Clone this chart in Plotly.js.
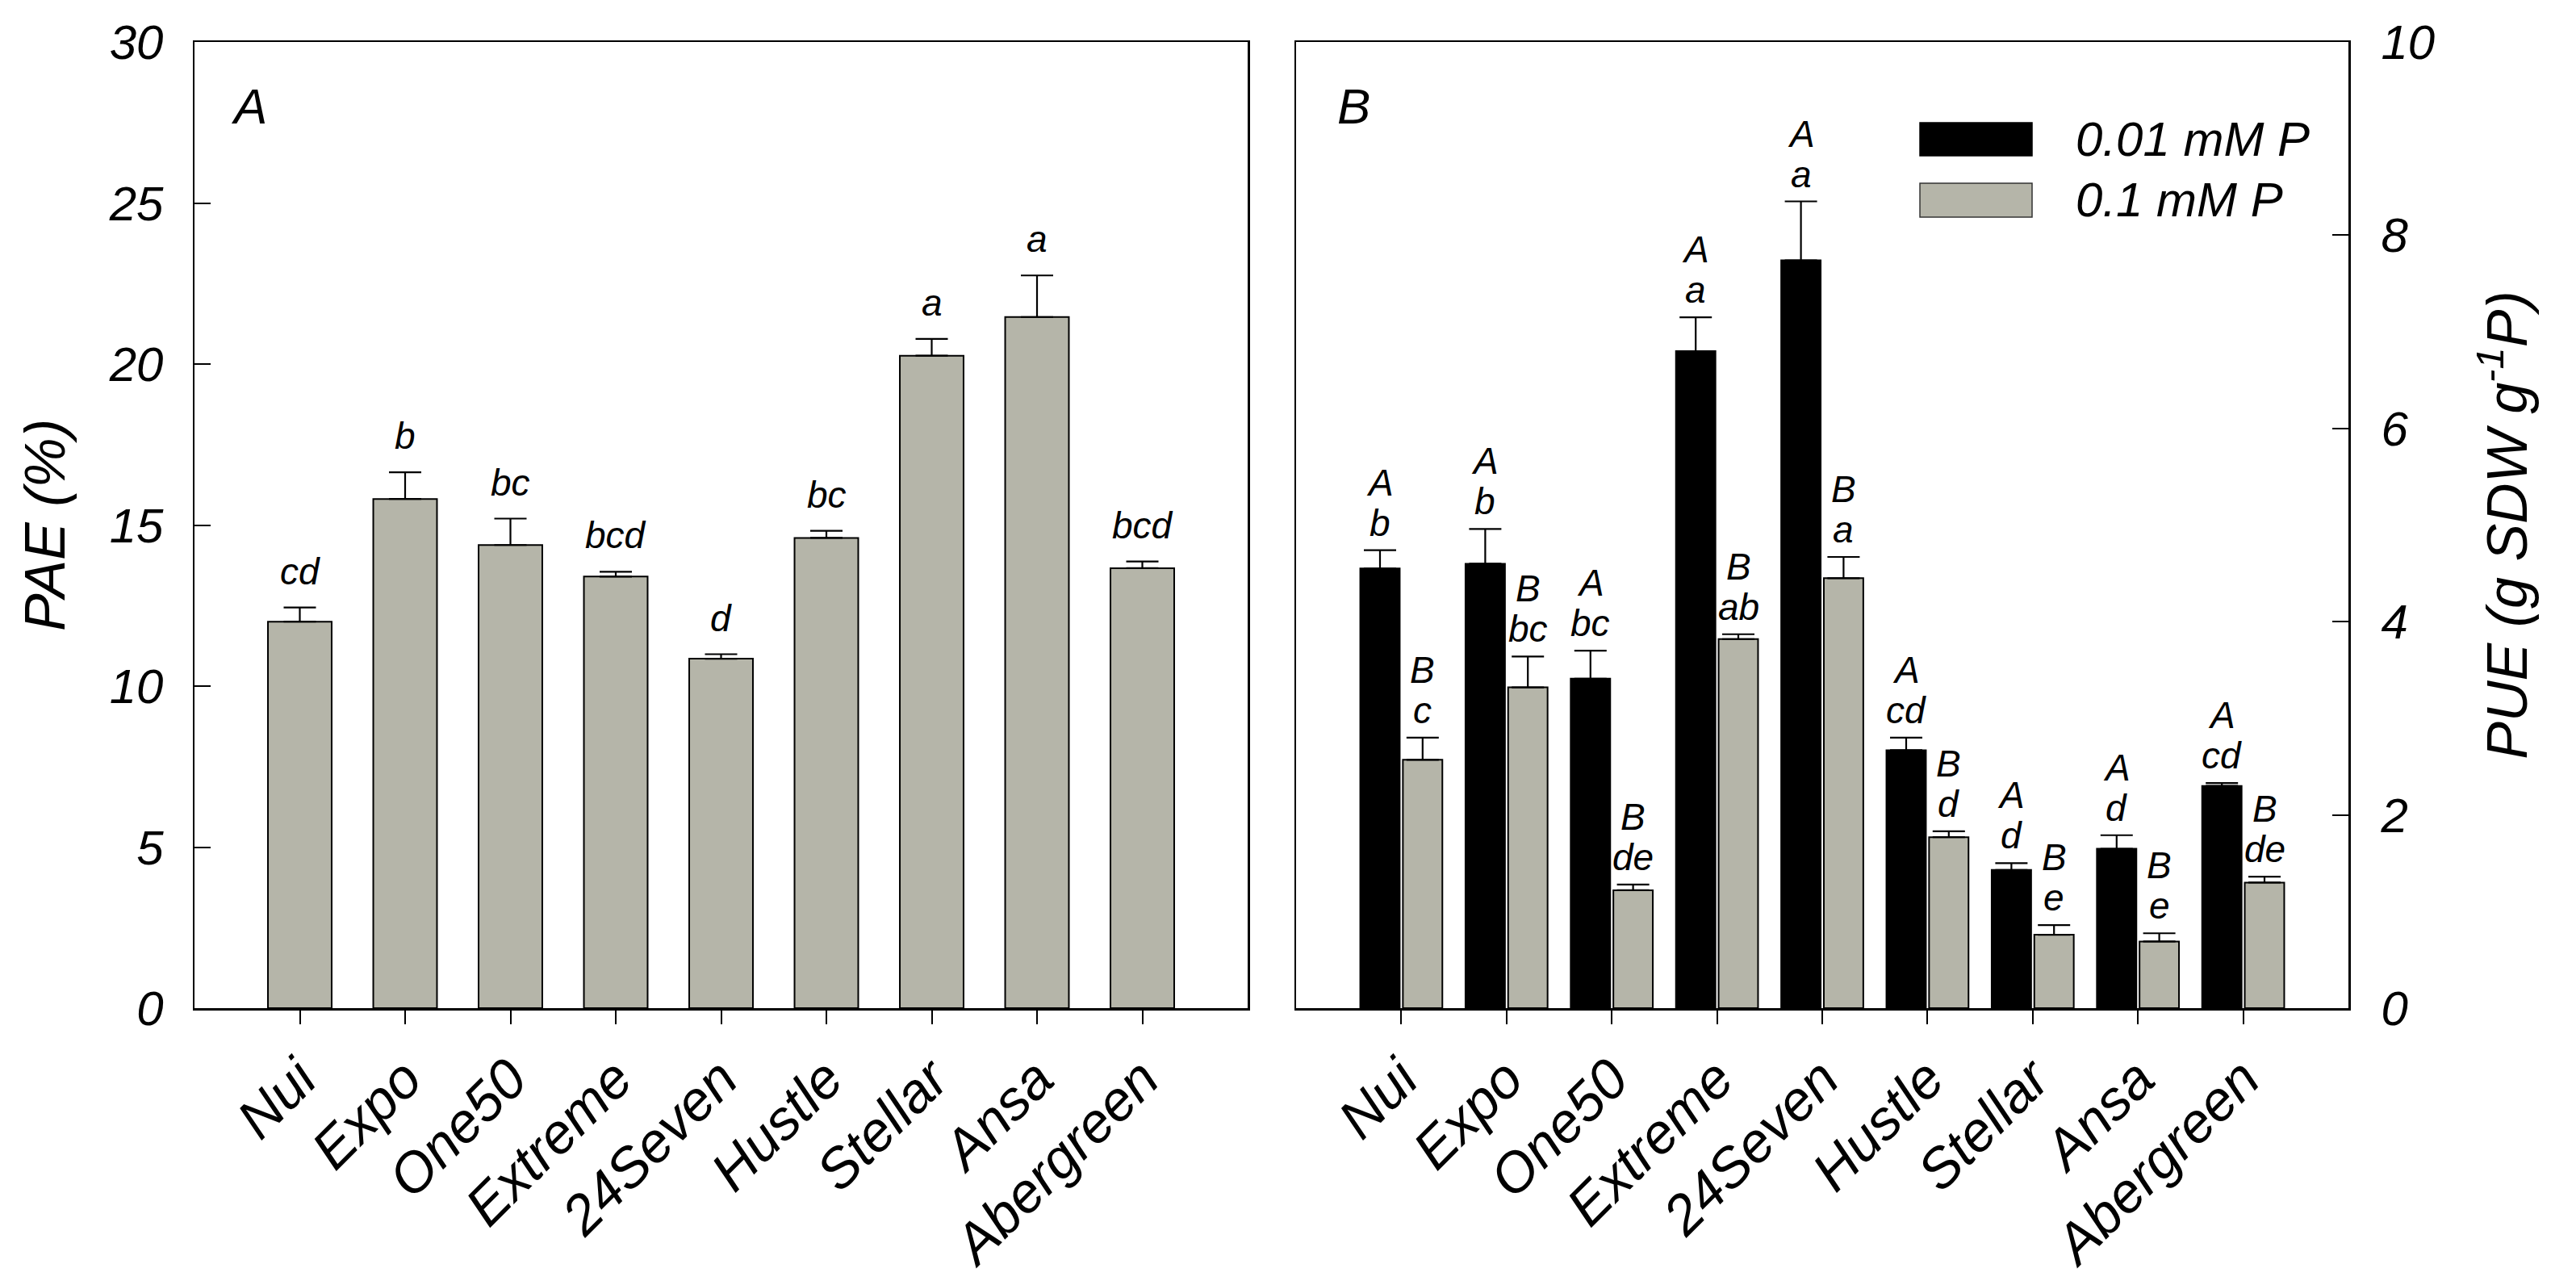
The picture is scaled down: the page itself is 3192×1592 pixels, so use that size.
<!DOCTYPE html>
<html>
<head>
<meta charset="utf-8">
<script src="https://cdn.plot.ly/plotly-3.0.1.min.js"></script>
<style>html,body{margin:0;padding:0;background:#fff;}#chart{width:3192px;height:1592px;}</style>
</head>
<body>
<div id="chart"></div>
<script>
// ---- data ----
const cultivars = ['Nui','Expo','One50','Extreme','24Seven','Hustle','Stellar','Ansa','Abergreen'];
const paeValues = [12.0, 15.81, 14.38, 13.4, 10.85, 14.6, 20.26, 21.46, 13.66];
const paeErrors = [0.44, 0.83, 0.82, 0.15, 0.14, 0.22, 0.52, 1.29, 0.21];
const paeLetters = ['cd','b','bc','bcd','d','bc','a','a','bcd'];

const pueLowP = [4.55, 4.60, 3.41, 6.80, 7.74, 2.67, 1.43, 1.65, 2.30];
const pueLowPErr = [0.19, 0.36, 0.29, 0.35, 0.61, 0.13, 0.07, 0.14, 0.03];
const pueHighP = [2.57, 3.32, 1.22, 3.82, 4.45, 1.77, 0.76, 0.69, 1.30];
const pueHighPErr = [0.23, 0.32, 0.06, 0.05, 0.22, 0.06, 0.10, 0.085, 0.06];
const lowPUpper = ['A','A','A','A','A','A','A','A','A'];
const lowPLower = ['b','b','bc','a','a','cd','d','d','cd'];
const highPUpper = ['B','B','B','B','B','B','B','B','B'];
const highPLower = ['c','bc','de','ab','a','d','e','e','de'];

const seriesNames = ['0.01 mM P','0.1 mM P'];
const paeTicks = [0,5,10,15,20,25,30];
const pueTicks = [0,2,4,6,8,10];

// ---- styling ----
const FONT = 'Liberation Sans, Arial, sans-serif';
const GREY = '#b5b5a9';
const BLACK = '#000000';
const zeros = cultivars.map(() => 0);
const ebar = (arr) => ({type:'data', symmetric:false, array:arr, arrayminus:zeros, color:'#000', thickness:2.2, width:20, visible:true});

const traces = [
  {type:'bar', x:cultivars, y:paeValues, xaxis:'x', yaxis:'y', width:0.605,
   marker:{color:GREY, line:{color:'#000', width:2}}, error_y:ebar(paeErrors), showlegend:false, name:'PAE'},
  {type:'bar', x:cultivars, y:pueLowP, xaxis:'x2', yaxis:'y2', width:0.375, offset:-0.39,
   marker:{color:BLACK, line:{color:'#000', width:2}}, error_y:ebar(pueLowPErr), showlegend:false, name:seriesNames[0]},
  {type:'bar', x:cultivars, y:pueHighP, xaxis:'x2', yaxis:'y2', width:0.375, offset:0.015,
   marker:{color:GREY, line:{color:'#000', width:2}}, error_y:ebar(pueHighPErr), showlegend:false, name:seriesNames[1]}
];

const annFont = {family:FONT, size:46, color:'#000', style:'italic'};
const annotations = [];
cultivars.forEach((c, i) => {
  annotations.push({xref:'x', yref:'y', x:i, y:paeValues[i]+paeErrors[i], text:paeLetters[i],
    showarrow:false, yanchor:'bottom', xanchor:'center', yshift:17, font:annFont});
  const xl = i - 0.2025, xh = i + 0.2025;
  annotations.push({xref:'x2', yref:'y2', x:xl, y:pueLowP[i]+pueLowPErr[i], text:lowPLower[i],
    showarrow:false, yanchor:'bottom', xanchor:'center', yshift:6, font:annFont});
  annotations.push({xref:'x2', yref:'y2', x:xl, y:pueLowP[i]+pueLowPErr[i], text:lowPUpper[i],
    showarrow:false, yanchor:'bottom', xanchor:'center', yshift:56, font:annFont});
  annotations.push({xref:'x2', yref:'y2', x:xh, y:pueHighP[i]+pueHighPErr[i], text:highPLower[i],
    showarrow:false, yanchor:'bottom', xanchor:'center', yshift:6, font:annFont});
  annotations.push({xref:'x2', yref:'y2', x:xh, y:pueHighP[i]+pueHighPErr[i], text:highPUpper[i],
    showarrow:false, yanchor:'bottom', xanchor:'center', yshift:56, font:annFont});
});
// panel letters
annotations.push({xref:'x domain', yref:'y domain', x:0.033, y:0.934, text:'A', showarrow:false,
  xanchor:'left', yanchor:'middle', font:{family:FONT, size:62, color:'#000', style:'italic'}});
annotations.push({xref:'x2 domain', yref:'y2 domain', x:0.0376, y:0.934, text:'B', showarrow:false,
  xanchor:'left', yanchor:'middle', font:{family:FONT, size:62, color:'#000', style:'italic'}});
// legend text
annotations.push({xref:'x2 domain', yref:'y2 domain', x:0.7393, y:0.8997, text:seriesNames[0], showarrow:false,
  xanchor:'left', yanchor:'middle', font:{family:FONT, size:60, color:'#000', style:'italic'}});
annotations.push({xref:'x2 domain', yref:'y2 domain', x:0.7393, y:0.8363, text:seriesNames[1], showarrow:false,
  xanchor:'left', yanchor:'middle', font:{family:FONT, size:60, color:'#000', style:'italic'}});

const shapes = [
  {type:'rect', xref:'x2 domain', yref:'y2 domain', x0:0.5928, x1:0.6994, y0:0.8822, y1:0.9164,
   fillcolor:BLACK, line:{color:'#000', width:1.5}},
  {type:'rect', xref:'x2 domain', yref:'y2 domain', x0:0.5928, x1:0.6994, y0:0.8187, y1:0.8538,
   fillcolor:GREY, line:{color:'#333', width:1.5}}
];

const tickFont = {family:FONT, size:60, color:'#000', style:'italic'};
const catFont = {family:FONT, size:69, color:'#000', style:'italic'};
const xBase = {type:'category', range:[-1, 9], showline:true, linecolor:'#000', linewidth:2.5, mirror:true,
  ticks:'outside', ticklen:17, tickwidth:2, tickcolor:'#000', tickangle:-45, tickfont:catFont,
  showgrid:false, zeroline:false, automargin:false, fixedrange:true};

const layout = {
  width:3192, height:1592,
  paper_bgcolor:'#fff', plot_bgcolor:'#fff',
  margin:{l:241, r:282, t:52, b:343},
  barmode:'overlay',
  showlegend:false,
  font:{family:FONT, color:'#000'},
  xaxis:Object.assign({}, xBase, {domain:[0, 0.48895], anchor:'y'}),
  xaxis2:Object.assign({}, xBase, {domain:[0.51143, 1], anchor:'y2'}),
  yaxis:{domain:[0,1], anchor:'x', range:[0,30], tickvals:paeTicks, ticktext:paeTicks.map(String),
    showline:true, linecolor:'#000', linewidth:2.5, mirror:true, ticks:'inside', ticklen:20, tickwidth:2,
    tickcolor:'#000', tickfont:tickFont, ticklabelstandoff:24, showgrid:false, zeroline:false, automargin:false,
    title:{text:'PAE (%)', font:{family:FONT, size:70, color:'#000', style:'italic'}, standoff:32}},
  yaxis2:{domain:[0,1], anchor:'x2', side:'right', range:[0,10], tickvals:pueTicks, ticktext:pueTicks.map(String),
    showline:true, linecolor:'#000', linewidth:2.5, mirror:true, ticks:'inside', ticklen:20, tickwidth:2,
    tickcolor:'#000', tickfont:tickFont, ticklabelstandoff:26, showgrid:false, zeroline:false, automargin:false,
    title:{text:'PUE (g SDW g<sup>-1</sup>P)', font:{family:FONT, size:70, color:'#000', style:'italic'}, standoff:66}},
  annotations:annotations,
  shapes:shapes
};

Plotly.newPlot('chart', traces, layout, {staticPlot:true, displayModeBar:false});
</script>
</body>
</html>
